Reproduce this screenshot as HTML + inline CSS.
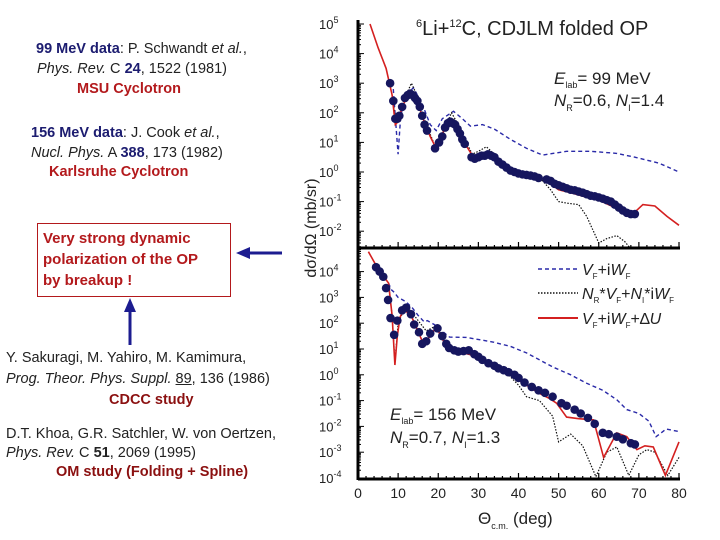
<!DOCTYPE html>
<html><head><meta charset="utf-8"><style>
body{margin:0;background:#fff;}
#wrap{position:relative;width:720px;height:540px;overflow:hidden;font-family:"Liberation Sans",sans-serif;color:#222;}
.t{position:absolute;font-size:14.5px;line-height:18px;white-space:nowrap;}
.nb{color:#1c1c70;font-weight:bold;}
.rd{color:#b3191c;font-weight:bold;}
svg{position:absolute;left:0;top:0;}
</style></head><body>
<div id="wrap">
<div class="t" style="left:36px;top:40px"><span class="nb">99 MeV data</span>: P. Schwandt <i>et al.</i>,</div>
<div class="t" style="left:37px;top:60px"><i>Phys. Rev.</i> C <b class="nb">24</b>, 1522 (1981)</div>
<div class="t rd" style="left:77px;top:80px">MSU Cyclotron</div>
<div class="t" style="left:31px;top:124px"><span class="nb">156 MeV data</span>: J. Cook <i>et al.</i>,</div>
<div class="t" style="left:31px;top:144px"><i>Nucl. Phys.</i> A <b class="nb">388</b>, 173 (1982)</div>
<div class="t rd" style="left:49px;top:163px">Karlsruhe Cyclotron</div>
<div style="position:absolute;left:37px;top:223px;width:192px;height:72px;border:1px solid #b3191c;"></div>
<div class="t rd" style="left:43px;top:228px;line-height:21px;font-size:15px">Very strong dynamic<br>polarization of the OP<br>by breakup !</div>
<div class="t" style="left:6px;top:349px">Y. Sakuragi, M. Yahiro, M. Kamimura,</div>
<div class="t" style="left:6px;top:370px"><i>Prog. Theor. Phys. Suppl.</i> <span style="text-decoration:underline">89</span>, 136 (1986)</div>
<div class="t rd" style="left:109px;top:391px;color:#8b1010">CDCC study</div>
<div class="t" style="left:6px;top:425px">D.T. Khoa, G.R. Satchler, W. von Oertzen,</div>
<div class="t" style="left:6px;top:444px"><i>Phys. Rev.</i> C <b>51</b>, 2069 (1995)</div>
<div class="t rd" style="left:56px;top:463px;color:#8b1010">OM study (Folding + Spline)</div>

<svg id="ch" width="720" height="540" font-family="Liberation Sans, sans-serif"></svg>
</div>
<script>
// ---- data (angle in deg, log10 of cross-section) ----
const upDataDeg=[8.0,8.8,9.3,9.8,10.3,11,11.7,12.4,13,13.6,14.2,14.8,15.4,16,16.6,17.2,19.2,20.2,21,21.7,22.4,23,23.6,24.2,24.8,25.4,26,26.6,28.3,29.1,30,30.8,31.6,32.4,33.2,34,35,36,37,38,39,40,41,42,43,44,45,47,48,49,50,51,52,53,54,55,56,57,58,59,60,61,62,63,64,65,66,67,68,69];
const upDataLog=[3.0,2.4,1.8,1.8,1.9,2.2,2.5,2.6,2.65,2.6,2.5,2.4,2.2,1.9,1.6,1.4,0.8,1.0,1.2,1.5,1.65,1.7,1.65,1.6,1.45,1.3,1.1,0.95,0.5,0.45,0.5,0.55,0.55,0.6,0.55,0.5,0.35,0.25,0.15,0.05,-0.0,-0.05,-0.08,-0.1,-0.12,-0.15,-0.2,-0.25,-0.3,-0.4,-0.45,-0.5,-0.55,-0.6,-0.62,-0.66,-0.7,-0.75,-0.8,-0.82,-0.86,-0.9,-0.95,-1.0,-1.1,-1.2,-1.3,-1.38,-1.42,-1.42];
const upRedDeg=[3,5,7,8.5,9.3,10,11,12.5,13.5,15,16.5,18,19.3,20.5,22,23.5,25,26.5,28.5,30,32,34,37,40,44,47,50,53,57,60,64,67,69,71,74,77,80];
const upRedLog=[5,4.2,3.5,2.6,1.6,1.7,2.2,2.6,2.65,2.3,1.7,1.2,0.85,1.1,1.6,1.7,1.4,1.0,0.55,0.5,0.6,0.5,0.15,-0.05,-0.1,-0.3,-0.6,-0.7,-0.85,-0.95,-1.2,-1.4,-1.35,-1.1,-1.15,-1.5,-1.8];
const upDotDeg=[8.5,9.5,11,13.3,15,17,19.3,21,23.3,25,27,28.5,30,32,34,37,40,44,46,48,50,52,55,57,60,62,64.5,66.5,68];
const upDotLog=[2.6,1.7,2.3,3.0,2.5,1.6,0.85,1.3,2.0,1.6,1.0,0.6,0.7,0.85,0.6,0.2,-0.05,-0.15,-0.3,-0.6,-1.0,-1.05,-1.1,-1.5,-2.4,-2.25,-2.15,-2.35,-2.6];
const upDashDeg=[8.8,9.5,10,10.6,11.5,13.8,16,18,19.5,21,23.8,26,28,31,34,38,42,46,52,58,64.5,69,75,80];
const upDashLog=[2.8,1.5,0.6,1.8,2.5,2.85,2.3,1.6,1.4,1.8,2.05,1.8,1.55,1.6,1.45,1.1,0.8,0.57,0.7,0.7,0.63,0.5,0.3,0.0];

const loDataDeg=[4.5,5.4,6.3,7,7.5,8.1,9,9.8,11,12,13.2,14,15.2,16,17,18,19.8,21,22,22.7,24,25,26.3,27.6,29,30,31,32.5,34,35,36.3,37.5,39,40,41.5,43.3,45,46.6,48.5,50.7,52,54,55.5,57.3,59,61,62.5,64.5,66,68,69];
const loDataLog=[4.17,4.0,3.8,3.36,2.9,2.2,1.55,2.1,2.5,2.6,2.35,1.95,1.65,1.2,1.3,1.6,1.8,1.5,1.2,1.04,0.95,0.9,0.92,0.95,0.8,0.7,0.58,0.45,0.35,0.25,0.18,0.1,0.0,-0.12,-0.3,-0.47,-0.6,-0.7,-0.85,-1.1,-1.2,-1.35,-1.5,-1.67,-1.9,-2.25,-2.3,-2.4,-2.5,-2.65,-2.7];
const loRedDeg=[2.6,5,7.6,8.5,9.2,9.8,10.5,11.5,13.5,16.3,18,19.5,22,25,30,35,38,40,42,45,47.5,49.5,52,55,58.7,61.2,64.5,67,69.5,71.5,73.6,76.6,80];
const loRedLog=[4.77,4.1,3.56,2.3,0.38,1.5,2.24,2.55,2.2,1.2,1.5,1.85,1.1,0.9,0.7,0.25,0.0,-0.2,-0.4,-0.7,-0.9,-1.1,-1.64,-1.7,-1.75,-3.2,-2.25,-2.4,-2.9,-2.75,-2.8,-3.9,-2.6];
const loDotDeg=[7.6,8.5,9.2,10,12,14,17,19.5,22,25,30,35,37.5,40,42,45.2,48.5,50,53,56,59.3,62,64.5,67.5,70,72,74,77.2,80];
const loDotLog=[3.56,2.3,0.5,2.0,2.7,2.3,1.7,1.9,1.2,0.95,0.7,0.3,0.0,-0.4,-0.85,-1.0,-1.6,-2.6,-2.3,-2.75,-3.95,-3.0,-2.8,-3.9,-3.1,-2.9,-3.0,-3.9,-3.2];
const loDashDeg=[7.6,8.3,9.0,10,12,13.5,15,16.5,17.3,19,22.8,27,33.6,38,42,48.6,53,57,61,64.5,67,70,72.5,74.3,76.8,80];
const loDashLog=[3.56,3.3,3.2,3.0,2.83,2.6,2.3,2.05,2.1,1.95,1.46,1.45,1.27,1.1,0.85,0.3,0.0,-0.33,-0.6,-0.97,-1.35,-1.5,-1.8,-2.4,-2.1,-2.2];

const xTicks=[0,10,20,30,40,50,60,70,80];
const upExp=[5,4,3,2,1,0,-1,-2];
const loExp=[4,3,2,1,0,-1,-2,-3,-4];

// ---- axes ----
const X0=358,X1=679;
const x=d=>X0+(X1-X0)*d/80;
const yU=l=>24+(5-l)*29.6;
const yL=l=>478-(l+4)*25.8;
const TOP=24,MID=248,BOT=479;
const NS='http://www.w3.org/2000/svg';
const svg=document.getElementById('ch');
function mk(tag,at,parent){const e=document.createElementNS(NS,tag);for(const k in at)e.setAttribute(k,at[k]);(parent||svg).appendChild(e);return e;}

const defs=mk('defs',{});
const cu=mk('clipPath',{id:'cu'},defs);mk('rect',{x:X0,y:TOP-2,width:X1-X0+4,height:MID-TOP+2},cu);
const cl=mk('clipPath',{id:'cl'},defs);mk('rect',{x:X0,y:MID,width:X1-X0+4,height:BOT-MID},cl);

function line(dx,dl,fy,clip,style,name){
  const pts=dx.map((d,i)=>x(d).toFixed(1)+','+fy(dl[i]).toFixed(1)).join(' ');
  const p=mk('polyline',Object.assign({points:pts,fill:'none','clip-path':'url(#'+clip+')'},style));
  
  
}
function dots(dx,dl,fy,name){
  const g=mk('g',{});
  
  
  dx.forEach((d,i)=>{const c=mk('circle',{cx:x(d),cy:fy(dl[i]),r:4.3,fill:'#16165e'},g);
    
    });
}
const sDash={stroke:'#2a2aa8','stroke-width':1.4,'stroke-dasharray':'4 3'};
const sDot={stroke:'#111','stroke-width':1.2,'stroke-dasharray':'1.5 1.5'};
const sRed={stroke:'#d42020','stroke-width':1.6};

line(upDashDeg,upDashLog,yU,'cu',sDash,'upper-vf-curve');
line(upDotDeg,upDotLog,yU,'cu',sDot,'upper-nr-curve');
line(upRedDeg,upRedLog,yU,'cu',sRed,'upper-du-curve');
dots(upDataDeg,upDataLog,yU,'upper-data-99mev');
line(loDashDeg,loDashLog,yL,'cl',sDash,'lower-vf-curve');
line(loDotDeg,loDotLog,yL,'cl',sDot,'lower-nr-curve');
line(loRedDeg,loRedLog,yL,'cl',sRed,'lower-du-curve');
dots(loDataDeg,loDataLog,yL,'lower-data-156mev');

mk('line',{x1:X0,y1:TOP-4,x2:X0,y2:BOT+1,stroke:'#000','stroke-width':3});
mk('line',{x1:X0,y1:MID,x2:X1+1,y2:MID,stroke:'#000','stroke-width':3});
mk('line',{x1:X0,y1:BOT,x2:X1+1,y2:BOT,stroke:'#000','stroke-width':3});
for(let d=0;d<=80;d+=2){const maj=d%10===0;
  mk('line',{x1:x(d),y1:BOT,x2:x(d),y2:BOT-(maj?6:3),stroke:'#000','stroke-width':1.2});
  mk('line',{x1:x(d),y1:MID,x2:x(d),y2:MID-(maj?6:3),stroke:'#000','stroke-width':1.2});}
xTicks.forEach(d=>{const t=mk('text',{x:x(d),y:498,'font-size':14,'text-anchor':'middle',fill:'#222'});t.textContent=d;
  });
function ylog(exps,fy,lo,hi){
  for(let e=Math.floor(lo);e<=hi;e++){for(let m=1;m<10;m++){const l=e+Math.log10(m);if(l<lo||l>hi)continue;
    mk('line',{x1:X0,y1:fy(l),x2:X0+(m===1?6:3),y2:fy(l),stroke:'#000','stroke-width':1});}}
  exps.forEach(e=>{const t=mk('text',{x:319,y:fy(e)+5,'font-size':13,'text-anchor':'start',fill:'#222'});
    t.textContent='10';const s=mk('tspan',{dy:-6,'font-size':9},t);s.textContent=e;
    });
}
ylog(upExp,yU,-2.57,5);
ylog(loExp,yL,-4,4.9);
</script>
<svg width="720" height="540" style="position:absolute;left:0;top:0" font-family="Liberation Sans, sans-serif">
<text x="416" y="35" font-size="20" fill="#222"><tspan font-size="11" dy="-8">6</tspan><tspan dy="8">Li+</tspan><tspan font-size="11" dy="-8">12</tspan><tspan dy="8">C, CDJLM folded OP</tspan></text>
<text x="554" y="84" font-size="17" fill="#222"><tspan font-style="italic">E</tspan><tspan font-size="9" dy="4">lab</tspan><tspan dy="-4">= 99 MeV</tspan></text>
<text x="554" y="106" font-size="17" fill="#222"><tspan font-style="italic">N</tspan><tspan font-size="9" dy="5">R</tspan><tspan dy="-5">=0.6, </tspan><tspan font-style="italic">N</tspan><tspan font-size="9" dy="5">I</tspan><tspan dy="-5">=1.4</tspan></text>
<text x="390" y="420" font-size="17" fill="#222"><tspan font-style="italic">E</tspan><tspan font-size="9" dy="4">lab</tspan><tspan dy="-4">= 156 MeV</tspan></text>
<text x="390" y="443" font-size="17" fill="#222"><tspan font-style="italic">N</tspan><tspan font-size="9" dy="5">R</tspan><tspan dy="-5">=0.7, </tspan><tspan font-style="italic">N</tspan><tspan font-size="9" dy="5">I</tspan><tspan dy="-5">=1.3</tspan></text>
<g>
<line x1="538" y1="269" x2="578" y2="269" stroke="#2a2aa8" stroke-width="1.6" stroke-dasharray="4 3"/>
<text x="582" y="275" font-size="16" fill="#222"><tspan font-style="italic">V</tspan><tspan font-size="8" dy="4">F</tspan><tspan dy="-4">+i</tspan><tspan font-style="italic">W</tspan><tspan font-size="8" dy="4">F</tspan></text>
<line x1="538" y1="293" x2="578" y2="293" stroke="#111" stroke-width="1.6" stroke-dasharray="1.5 1.5"/>
<text x="582" y="299" font-size="16" fill="#222"><tspan font-style="italic">N</tspan><tspan font-size="8" dy="4">R</tspan><tspan dy="-4">*</tspan><tspan font-style="italic">V</tspan><tspan font-size="8" dy="4">F</tspan><tspan dy="-4">+</tspan><tspan font-style="italic">N</tspan><tspan font-size="8" dy="4">I</tspan><tspan dy="-4">*i</tspan><tspan font-style="italic">W</tspan><tspan font-size="8" dy="4">F</tspan></text>
<line x1="538" y1="318" x2="578" y2="318" stroke="#d42020" stroke-width="2"/>
<text x="582" y="324" font-size="16" fill="#222"><tspan font-style="italic">V</tspan><tspan font-size="8" dy="4">F</tspan><tspan dy="-4">+i</tspan><tspan font-style="italic">W</tspan><tspan font-size="8" dy="4">F</tspan><tspan dy="-4">+∆</tspan><tspan font-style="italic">U</tspan></text>
</g>
<text transform="translate(316,228) rotate(-90)" font-size="16" text-anchor="middle" fill="#222">dσ/dΩ (mb/sr)</text>
<text x="478" y="524" font-size="17" fill="#222">Θ<tspan font-size="9" dy="5">c.m.</tspan><tspan dy="-5"> (deg)</tspan></text>
<g><line x1="282" y1="253" x2="248" y2="253" stroke="#1c1c90" stroke-width="3"/><polygon points="236,253 250,247 250,259" fill="#1c1c90"/></g>
<g><line x1="130" y1="345" x2="130" y2="310" stroke="#1c1c90" stroke-width="3"/><polygon points="130,298 124,312 136,312" fill="#1c1c90"/></g>
</svg>
</body></html>
